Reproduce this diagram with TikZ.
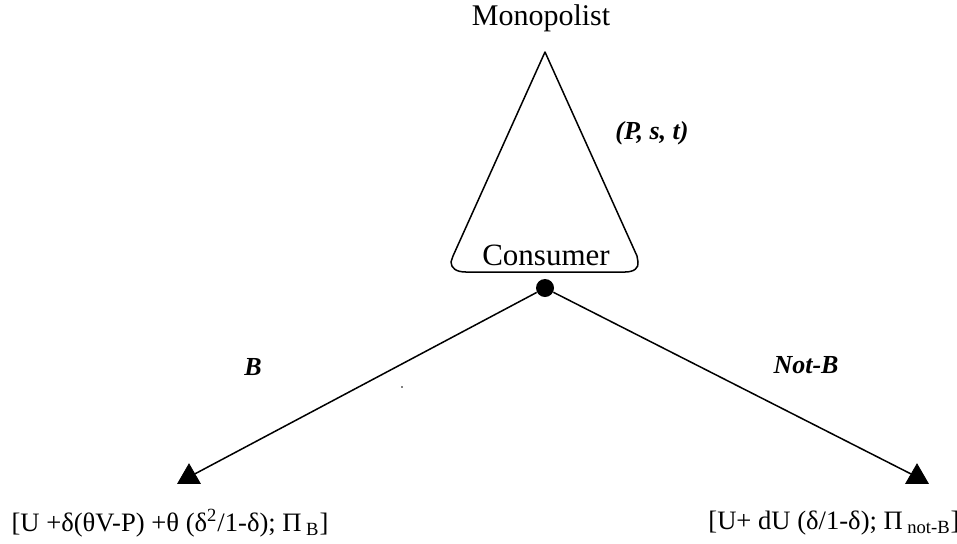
\documentclass[tikz,border=0pt]{standalone}
\usepackage{fontspec}
\setmainfont{Liberation Serif}
\usetikzlibrary{shapes.geometric}
\begin{document}
\begin{tikzpicture}[x=0.5pt,y=-0.5pt,
  edge/.style={line width=0.75pt},
  tri/.style={regular polygon,regular polygon sides=3,fill=black,draw=black,inner sep=0pt,minimum size=13pt},
  big/.style={font=\fontsize{15}{18}\selectfont},
  lbl/.style={font=\fontsize{13}{15}\selectfont\bfseries\itshape},
  pay/.style={font=\fontsize{13.3}{16}\selectfont}]
\useasboundingbox (0,0) rectangle (957,543);
% information set / triangle
\coordinate (apex) at (545,52);
\draw[edge,line join=round] (apex) -- (453,256) -- (451,262)
  .. controls (451,268) and (456,272) .. (466,272) -- (625,272)
  .. controls (634,272) and (639,268) .. (638,262) -- (637,256) -- cycle;
\node[big] (mono) at (541,18) {Monopolist};
\node[font=\fontsize{15.5}{18}\selectfont] (cons) at (546,255) {Consumer};
\node[lbl] (pst) at (652,133) {(P, s, t)};
% decision node
\node[circle,fill=black,inner sep=0pt,minimum size=9pt] (dot) at (545,288) {};
% terminal triangles
\node[tri] (lt) at (189,477) {};
\node[tri] (rt) at (917,477) {};
\draw[edge] (dot) -- (lt);
\draw[edge] (dot) -- (rt);
\node[lbl] (b) at (253,367) {B};
\node[lbl] (nb) at (806,365) {Not-B};
\fill (402,387) circle (0.9);
\node[pay] (pl) at (170,523) {[U +δ(θV-P) +θ (δ\textsuperscript{2}/1-δ); Π\,\textsubscript{B}]};
\node[pay] (pr) at (834,523) {[U+ dU (δ/1-δ); Π\,\textsubscript{not-B}]};
\end{tikzpicture}
\end{document}
